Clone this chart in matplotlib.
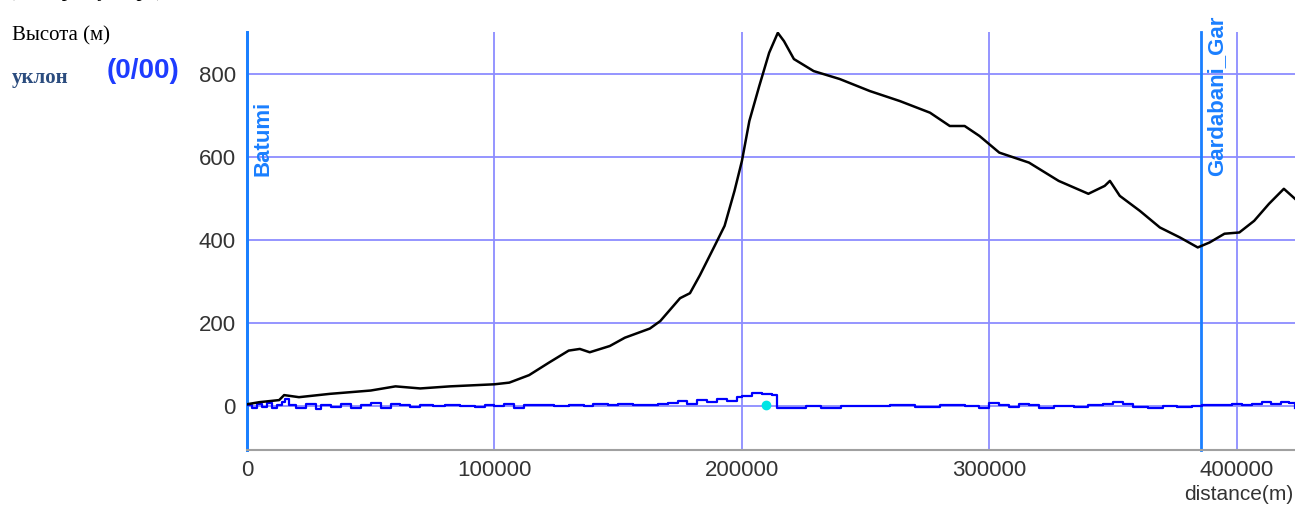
import matplotlib
matplotlib.use("Agg")
import matplotlib.pyplot as plt

# Профиль высоты (м) по дистанции (м)
dist = [0, 5000, 13000, 15000, 21000, 33500, 50000, 60000, 70000, 82000, 100000,
        106000, 114000, 122000, 130000, 134500, 138500, 146600, 152700, 162800,
        167000, 175000, 179000, 183000, 189000, 193000, 197000, 200000, 203000,
        207000, 211000, 214500, 217000, 221000, 229000, 239500, 251700, 263800,
        276000, 284000, 290000, 296000, 304000, 316000, 328000, 340000, 346600,
        348700, 352700, 360800, 368900, 377000, 384200, 389000, 395000, 401000,
        407000, 413000, 419000, 423500]
elev = [5, 10, 15, 27, 22, 30, 38, 48, 43, 48, 53,
        57, 75, 105, 134, 138, 130, 145, 165, 187,
        205, 260, 272, 315, 386, 434, 518, 590, 686,
        770, 850, 898, 878, 835, 806, 787, 758, 734,
        706, 674, 674, 650, 610, 586, 542, 511, 530,
        542, 506, 470, 430, 406, 382, 394, 415, 418,
        446, 487, 523, 499]

# Уклон (0/00)
slope_x = [0, 2000, 4000, 6000, 8000, 10000, 12000, 14000, 15500, 17000,
           20000, 24000, 28000, 30000, 34000, 38000, 42000, 46000, 50000, 54000,
           58000, 62000, 66000, 70000, 75000, 80000, 86000, 92000, 96000, 100000,
           104000, 108000, 112000, 118000, 124000, 130000, 136000, 140000, 146000, 150000,
           156000, 160000, 166000, 170000, 174000, 178000, 182000, 186000, 190000, 194000,
           198000, 200000, 204000, 208000, 212000, 214000, 218000, 222000, 226000, 232000,
           240000, 250000, 260000, 270000, 280000, 290000, 296000, 300000, 304000, 308000,
           312000, 316000, 320000, 326000, 334000, 340000, 346000, 350000, 354000, 358000,
           364000, 370000, 376000, 382000, 386000, 392000, 398000, 402000, 406000, 410000,
           414000, 418000, 421000, 423500]
slope = [3, -4, 6, -2, 8, -5, 4, 10, 18, 2,
         -3, 5, -6, 4, -2, 6, -5, 3, 7, -4,
         5, 2, -1, 3, 0, 4, 1, -2, 3, 0,
         6, -5, 2, 4, 1, 3, 0, 5, 2, 6,
         4, 3, 5, 8, 12, 6, 15, 10, 18, 14,
         22, 25, 32, 30, 28, -4, -5, -3, 0, -4,
         1, 0, 2, -2, 3, 0, -3, 8, 2, -2,
         6, 3, -3, 1, -2, 2, 5, 10, 6, -2,
         -4, 0, -2, 1, 4, 2, 6, 3, 5, 10,
         6, 11, 8, -3]

# Станции
stations = ["Batumi", "Gardabani_Gar"]
station_x = [0, 385500]
cursor_x, cursor_y = 209700, 2

xticks = [0, 100000, 200000, 300000, 400000]
yticks = [0, 200, 400, 600, 800]

grid_c = "#8c8cff"
station_c = "#1a7fff"

fig = plt.figure(figsize=(12.95, 5.08), dpi=100)
ax = fig.add_axes([247 / 1295, 58 / 508, 1 - 247 / 1295, (450 - 32) / 508])

ax.set_xlim(0, 423500)
ax.set_ylim(-105, 900)

for x in xticks[1:]:
    ax.axvline(x, color=grid_c, lw=1.3, zorder=1)
for y in yticks:
    ax.axhline(y, color=grid_c, lw=1.3, zorder=1)

for name, sx in zip(stations, station_x):
    ax.axvline(sx, color=station_c, lw=2, zorder=2, clip_on=False)
    ax.text(sx + 6500, 554, name, rotation=90, ha="center", va="bottom",
            color=station_c, fontsize=16, fontweight="bold",
            family="Liberation Sans", clip_on=False, zorder=5)

ax.plot(slope_x, slope, color="#0000ff", lw=1.6, drawstyle="steps-post", zorder=3)
ax.plot(dist, elev, color="black", lw=1.8, zorder=4)
ax.plot([cursor_x], [cursor_y], "o", color="#00e5e5", ms=6, zorder=5)

for s in ["top", "right"]:
    ax.spines[s].set_visible(False)
ax.spines["left"].set_color(station_c)
ax.spines["left"].set_linewidth(2)
ax.spines["bottom"].set_color("#a0a0a0")
ax.spines["bottom"].set_linewidth(1.5)

ax.set_xticks(xticks)
ax.set_xticklabels([str(v) for v in xticks])
ax.set_yticks(yticks)
ax.set_yticklabels([str(v) for v in yticks])
ax.tick_params(length=0, labelsize=16, labelcolor="#333333")
ax.tick_params(axis="y", pad=8)
ax.tick_params(axis="x", pad=7)
for lab in ax.get_xticklabels() + ax.get_yticklabels():
    lab.set_family("Liberation Sans")

fig.text(1293 / 1295, 1 - 495 / 508, "distance(m)", ha="right", va="center",
         fontsize=15, color="#333333", family="Liberation Sans")
fig.text(12 / 1295, 1 - 36 / 508, "Высота (м)", ha="left", va="center",
         fontsize=15, family="Liberation Serif")
fig.text(12 / 1295, 1 - 78 / 508, "уклон", ha="left", va="center",
         fontsize=15, fontweight="bold", color="#2b4c7e", family="Liberation Serif")
fig.text(107 / 1295, 1 - 71 / 508, "(0/00)", ha="left", va="center",
         fontsize=20, fontweight="bold", color="#1e3cff", family="Liberation Sans")
fig.text(8 / 1295, 1 + 4 / 508, "(в метрах у моря)", ha="left", va="baseline",
         fontsize=15, family="Liberation Serif")

fig.savefig("out.png", dpi=100)
